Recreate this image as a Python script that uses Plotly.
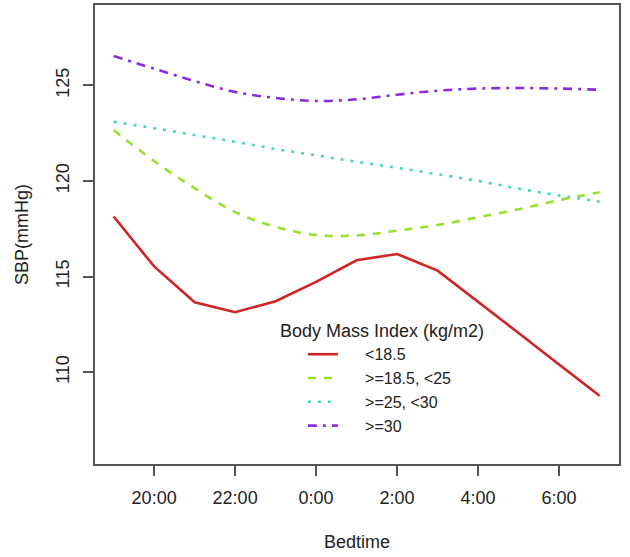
import plotly.graph_objects as go

hours = [19, 20, 21, 22, 23, 24, 25, 26, 27, 28, 29, 30, 31]
tick_vals = [20, 22, 24, 26, 28, 30]
tick_text = ["20:00", "22:00", "0:00", "2:00", "4:00", "6:00"]

sbp_lt185 = [118.14, 115.53, 113.66, 113.14, 113.71, 114.72, 115.85, 116.18, 115.31, 113.7, 112.05, 110.4, 108.77]
sbp_185_25 = [122.66, 121.04, 119.62, 118.37, 117.6, 117.17, 117.15, 117.4, 117.7, 118.1, 118.52, 119.0, 119.41]
sbp_25_30 = [123.09, 122.76, 122.40, 122.05, 121.67, 121.34, 121.0, 120.69, 120.35, 120.0, 119.6, 119.24, 118.92]
sbp_ge30 = [126.53, 125.87, 125.22, 124.65, 124.34, 124.18, 124.27, 124.51, 124.72, 124.83, 124.86, 124.83, 124.77]

names = ["&lt;18.5", "&gt;=18.5, &lt;25", "&gt;=25, &lt;30", "&gt;=30"]
series = [sbp_lt185, sbp_185_25, sbp_25_30, sbp_ge30]
colors = ["#D02424", "#97DE2E", "#48D3C6", "#8A2BE2"]
dashes = ["solid", "8px,8px", "3px,7px", "9px,6px,3px,6px"]
shapes = ["linear", "spline", "spline", "spline"]

FONT = "Liberation Sans, Arial, sans-serif"
pad = "\u00a0" * 5

fig = go.Figure()
for nm, ys, c, d, s in zip(names, series, colors, dashes, shapes):
    fig.add_trace(go.Scatter(
        x=hours, y=ys, mode="lines", name=pad + nm,
        line=dict(color=c, width=2.6, dash=d, shape=s, smoothing=1.0),
    ))

axis_common = dict(
    showline=True, mirror=True, linecolor="#555555", linewidth=1.5,
    ticks="outside", ticklen=10, tickwidth=1.5, tickcolor="#555555",
    showgrid=False, zeroline=False, automargin=False,
    tickfont=dict(family=FONT, size=18, color="#222222"),
)

fig.update_layout(
    width=630, height=557,
    margin=dict(l=95, r=11, t=5, b=93),
    paper_bgcolor="white", plot_bgcolor="white",
    font=dict(family=FONT, size=18, color="#222222"),
    xaxis=dict(range=[18.54, 31.48], tickvals=tick_vals, ticktext=tick_text,
               title=dict(text="Bedtime", font=dict(family=FONT, size=18), standoff=28),
               ticklabelstandoff=7, **axis_common),
    yaxis=dict(range=[105.2, 129.2], tickvals=[110, 115, 120, 125], tickangle=-90,
               title=dict(text="SBP(mmHg)", font=dict(family=FONT, size=18), standoff=20),
               ticklabelstandoff=7, **axis_common),
    legend=dict(
        x=0.349, y=0.327, xanchor="left", yanchor="top",
        bgcolor="rgba(0,0,0,0)", borderwidth=0,
        title=dict(text="Body Mass Index (kg/m2)", side="top", font=dict(family=FONT, size=18)),
        font=dict(family=FONT, size=16, color="#222222"),
        indentation=25, tracegroupgap=0,
    ),
)

fig.write_html("out.html", config={"displayModeBar": False},
               post_script="document.body.style.margin='0';")
